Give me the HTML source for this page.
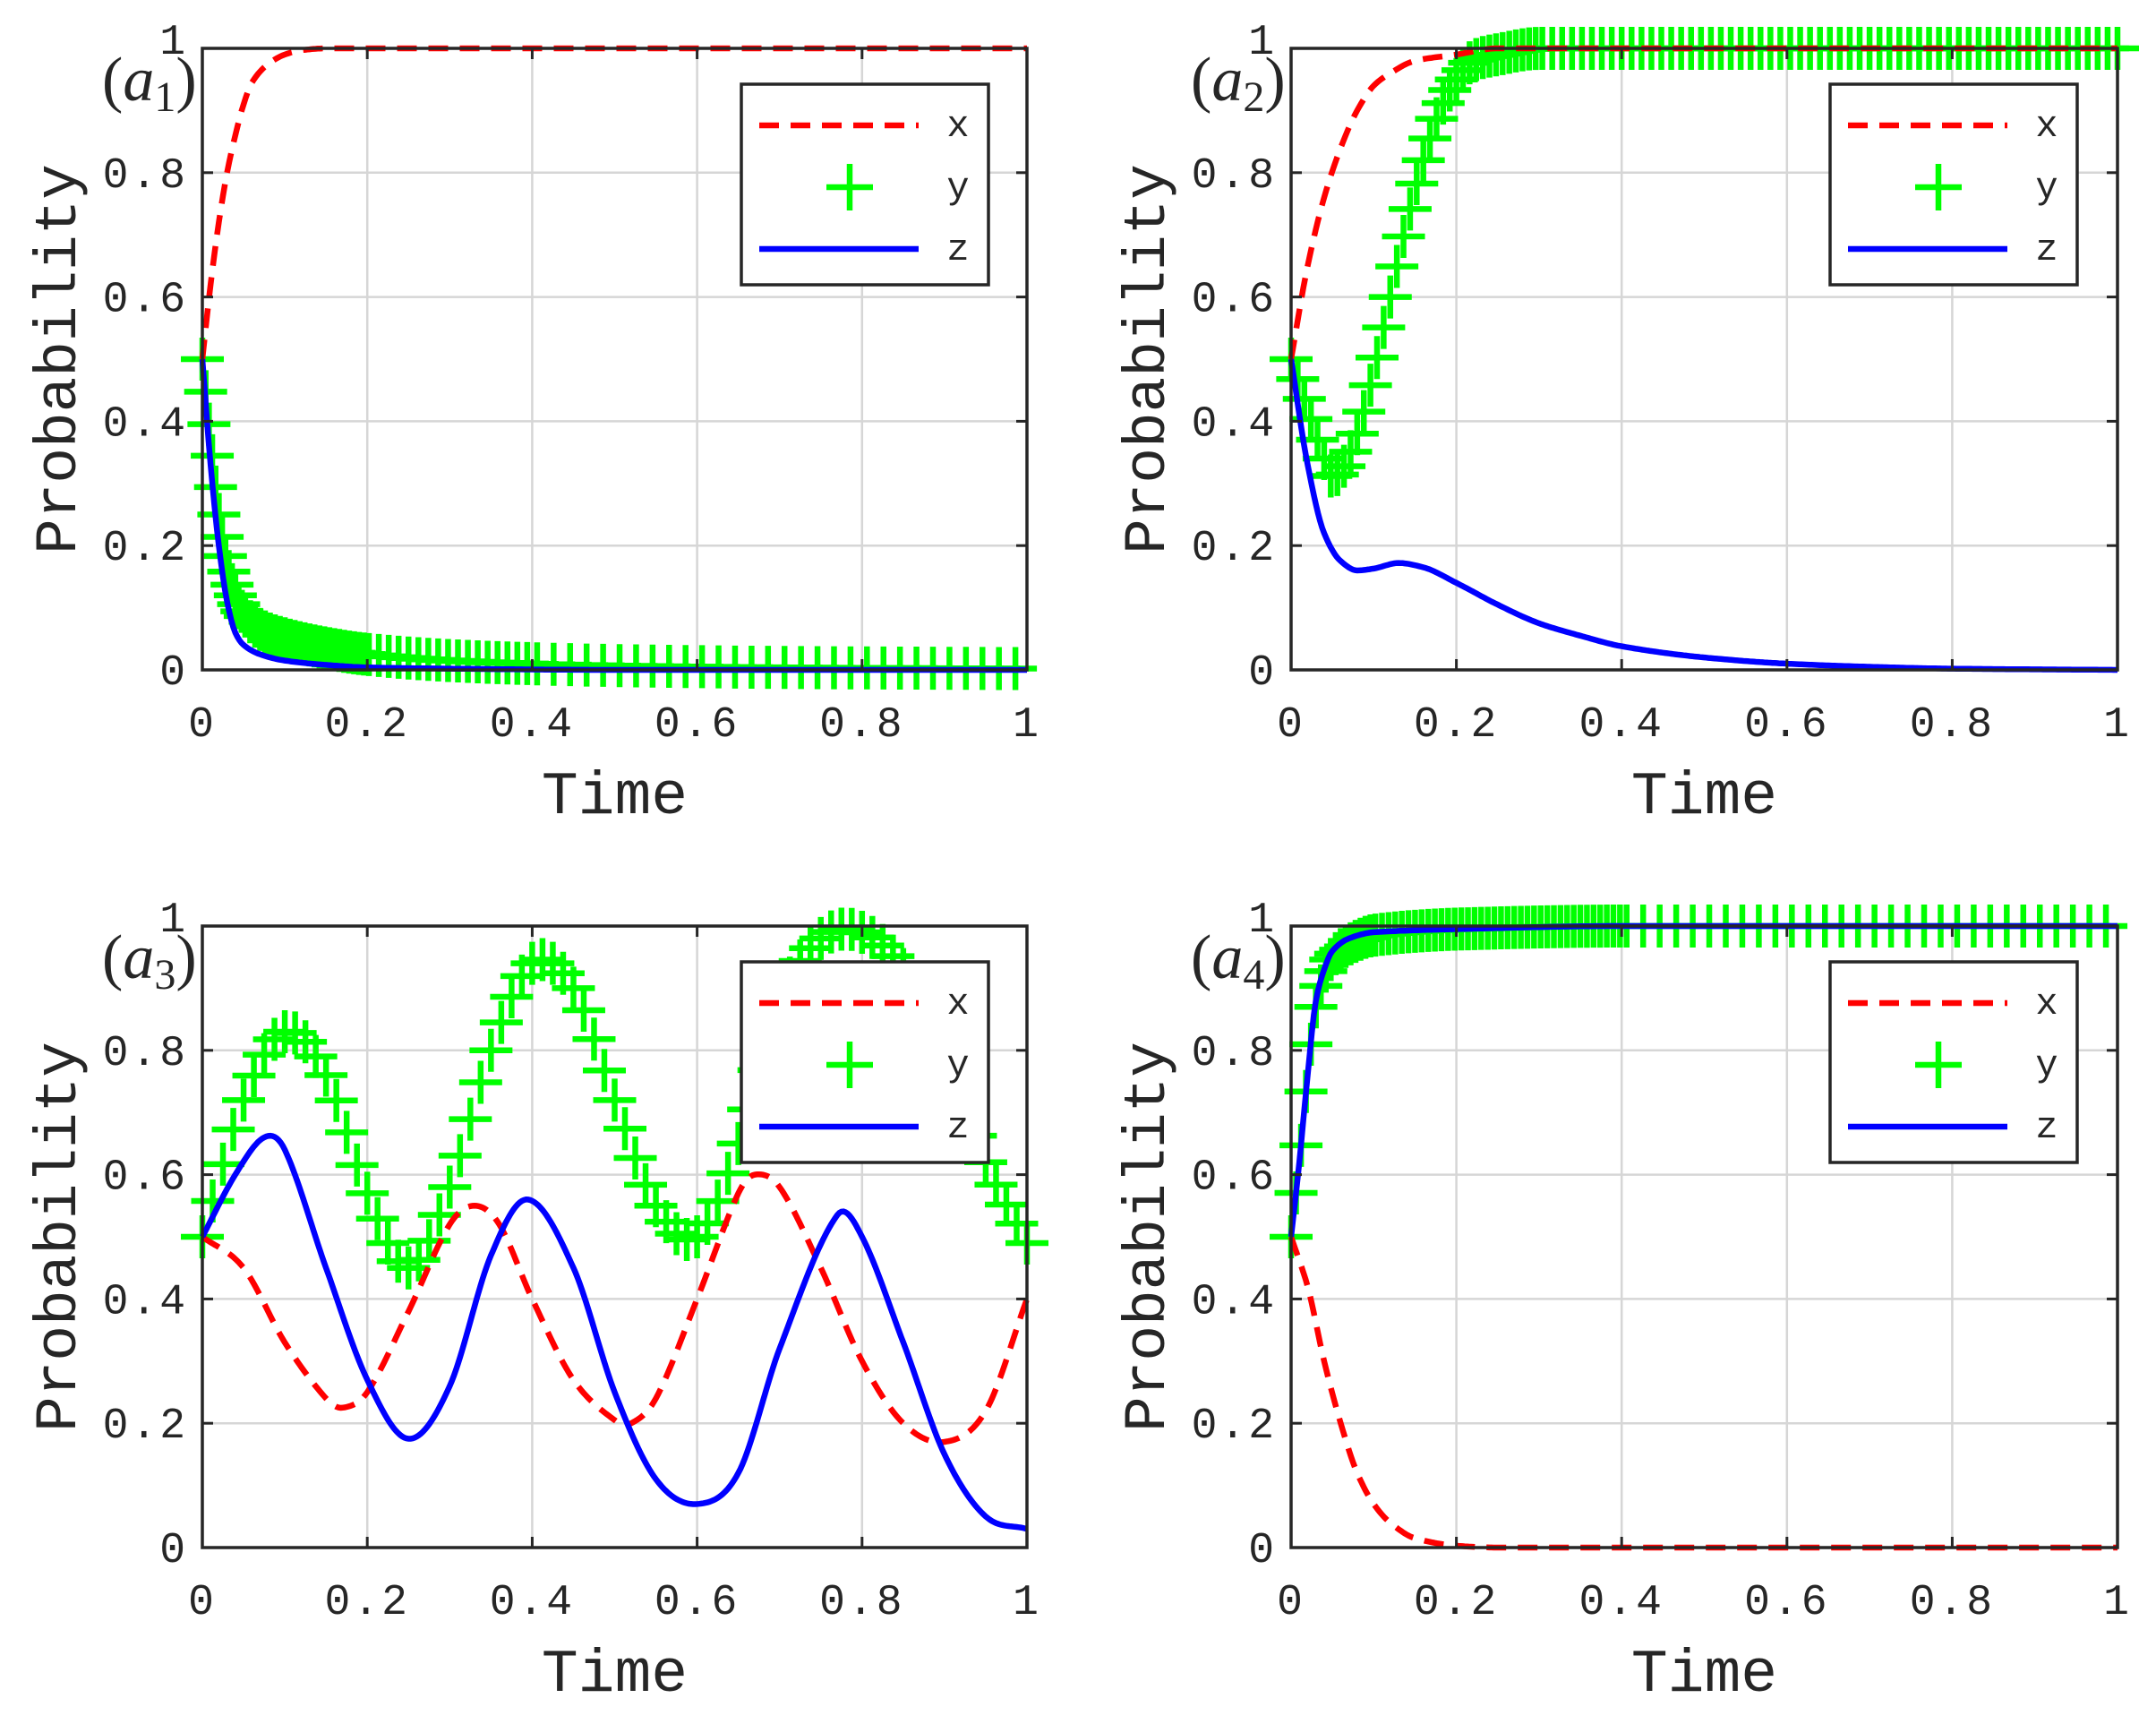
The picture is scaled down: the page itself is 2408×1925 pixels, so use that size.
<!DOCTYPE html>
<html><head><meta charset="utf-8"><style>
html,body{margin:0;padding:0;background:#fff;}
svg text{font-family:"Liberation Mono",monospace;fill:#262626;}
</style></head><body>
<svg id="fig" width="2408" height="1920" viewBox="0 0 2408 1920" xmlns="http://www.w3.org/2000/svg"></svg>
<script>
// ---- Panel a1 data ----
const a1_xt=[0,0.01,0.02,0.03,0.04,0.05,0.06,0.08,0.1,0.12,0.15,0.2,0.5,1];
const a1_x=[0.5,0.62,0.72,0.8,0.86,0.91,0.945,0.975,0.99,0.997,1,1,1,1];
const a1_yt=[0,0.01,0.02,0.03,0.04,0.05,0.07,0.1,0.15,0.2,0.3,0.4,0.5,0.7,1];
const a1_y=[0.5,0.37,0.25,0.17,0.12,0.09,0.065,0.05,0.035,0.025,0.015,0.01,0.007,0.004,0.002];
const a1_zt=[0,0.01,0.02,0.03,0.04,0.05,0.07,0.1,0.15,0.2,0.3,0.5,1];
const a1_z=[0.5,0.33,0.2,0.11,0.06,0.04,0.025,0.015,0.008,0.004,0.002,0,0];
// ---- Panel a2 data ----
const a2_xt=[0,0.02,0.04,0.06,0.08,0.1,0.12,0.15,0.2,0.25,1];
const a2_x=[0.5,0.65,0.76,0.84,0.9,0.94,0.96,0.98,0.99,1,1];
const a2_yt=[0,0.02,0.04,0.05,0.06,0.08,0.1,0.12,0.14,0.16,0.18,0.2,0.22,0.25,0.3,1];
const a2_y=[0.5,0.42,0.34,0.31,0.32,0.38,0.48,0.6,0.72,0.82,0.9,0.95,0.98,0.99,1,1];
const a2_zt=[0,0.02,0.04,0.06,0.08,0.1,0.13,0.16,0.2,0.25,0.3,0.35,0.4,0.5,0.6,0.7,0.8,1];
const a2_z=[0.5,0.33,0.22,0.175,0.16,0.163,0.172,0.165,0.14,0.105,0.075,0.055,0.038,0.02,0.01,0.005,0.002,0];
// ---- Panel a3 data ----
const a3_xt=[0,0.05,0.1,0.15,0.17,0.2,0.25,0.3,0.33,0.36,0.4,0.45,0.5,0.52,0.55,0.6,0.65,0.67,0.7,0.75,0.8,0.85,0.9,0.95,1];
const a3_x=[0.5,0.45,0.33,0.24,0.225,0.25,0.38,0.52,0.55,0.52,0.4,0.27,0.205,0.2,0.24,0.4,0.57,0.6,0.58,0.45,0.3,0.2,0.17,0.22,0.4];
const a3_yt=[0,0.05,0.1,0.15,0.2,0.25,0.3,0.35,0.4,0.45,0.5,0.55,0.6,0.65,0.7,0.75,0.8,0.85,0.9,0.95,1];
const a3_y=[0.5,0.72,0.83,0.76,0.57,0.45,0.58,0.8,0.94,0.9,0.72,0.55,0.5,0.65,0.88,0.98,0.99,0.93,0.8,0.62,0.49];
const a3_zt=[0,0.04,0.075,0.1,0.15,0.2,0.25,0.3,0.35,0.395,0.45,0.5,0.55,0.6,0.65,0.7,0.77,0.8,0.85,0.9,0.95,1];
const a3_z=[0.5,0.6,0.66,0.64,0.45,0.27,0.175,0.26,0.47,0.56,0.45,0.25,0.11,0.07,0.12,0.32,0.535,0.5,0.33,0.15,0.05,0.03];
// ---- Panel a4 data ----
const a4_xt=[0,0.02,0.04,0.06,0.08,0.1,0.12,0.15,0.2,0.25,1];
const a4_x=[0.5,0.42,0.3,0.2,0.12,0.07,0.04,0.015,0.003,0,0];
const a4_yt=[0,0.01,0.02,0.03,0.04,0.05,0.07,0.1,0.2,0.4,1];
const a4_y=[0.5,0.62,0.76,0.87,0.92,0.95,0.97,0.985,0.995,1,1];
const a4_zt=[0,0.01,0.02,0.03,0.04,0.05,0.07,0.1,0.2,0.4,1];
const a4_z=[0.5,0.62,0.76,0.88,0.93,0.96,0.98,0.99,0.995,1,1];
// ---- tick labels ----
const xTicks=[0,0.2,0.4,0.6,0.8,1];
const xTickLabels=["0","0.2","0.4","0.6","0.8","1"];
const yTicks=[0,0.2,0.4,0.6,0.8,1];
const yTickLabels=["0","0.2","0.4","0.6","0.8","1"];

const NS="http://www.w3.org/2000/svg";
const svg=document.getElementById('fig');
function mk(tag,attrs,parent){const e=document.createElementNS(NS,tag);for(const k in attrs)e.setAttribute(k,attrs[k]);(parent||svg).appendChild(e);return e;}

function interp(ts,vs,t,smooth){
  let i=0;while(i<ts.length-2&&t>ts[i+1])i++;
  const t0=ts[i],t1=ts[i+1],h=t1-t0,s=(t-t0)/h;
  const d=k=>{ if(k<=0) return (vs[1]-vs[0])/(ts[1]-ts[0]); if(k>=ts.length-1) return (vs[k]-vs[k-1])/(ts[k]-ts[k-1]);
    if(smooth) return (vs[k+1]-vs[k-1])/(ts[k+1]-ts[k-1]);
    const a=(vs[k]-vs[k-1])/(ts[k]-ts[k-1]),b=(vs[k+1]-vs[k])/(ts[k+1]-ts[k]); if(a*b<=0) return 0; return 2/(1/a+1/b);};
  const m0=d(i)*h,m1=d(i+1)*h,p0=vs[i],p1=vs[i+1];
  const s2=s*s,s3=s2*s;
  return (2*s3-3*s2+1)*p0+(s3-2*s2+s)*m0+(-2*s3+3*s2)*p1+(s3-s2)*m1;
}

const panels=[
 {id:'a1',L:226,R:1147,T:54,B:748,sub:'1',x:[a1_xt,a1_x],y:[a1_yt,a1_y],z:[a1_zt,a1_z],mk:'a1',smooth:false},
 {id:'a2',L:1442,R:2365,T:54,B:748,sub:'2',x:[a2_xt,a2_x],y:[a2_yt,a2_y],z:[a2_zt,a2_z],mk:'a2',smooth:false},
 {id:'a3',L:226,R:1147,T:1034,B:1728,sub:'3',x:[a3_xt,a3_x],y:[a3_yt,a3_y],z:[a3_zt,a3_z],mk:'a3',smooth:true},
 {id:'a4',L:1442,R:2365,T:1034,B:1728,sub:'4',x:[a4_xt,a4_x],y:[a4_yt,a4_y],z:[a4_zt,a4_z],mk:'a4',smooth:false}
];

function markerTimes(kind){
  const out=[];let t=0;
  if(kind==='a1'){while(t<=1.0001){out.push(t);t+= t<0.05?0.004:(t<0.2?0.006:(t<0.4?0.012:0.02));}}
  else if(kind==='a2'){while(t<=1.0001){out.push(t);t+= t<0.3?0.008:0.012;}}
  else if(kind==='a3'){while(t<=1.0001){out.push(t);t+=0.0125;}}
  else {while(t<=1.0001){out.push(t);t+= t<0.1?0.006:(t<0.4?0.008:0.02);}}
  return out;
}

panels.forEach(p=>{
  const g=mk('g',{});
  
  
  const sx=v=>p.L+(p.R-p.L)*v, sy=v=>p.B-(p.B-p.T)*v;
  xTicks.forEach(v=>{const l=mk('line',{x1:sx(v),x2:sx(v),y1:p.T,y2:p.B,stroke:'#d6d6d6','stroke-width':2.5},g);
    });
  yTicks.forEach(v=>{const l=mk('line',{x1:p.L,x2:p.R,y1:sy(v),y2:sy(v),stroke:'#d6d6d6','stroke-width':2.5},g);
    });
  const N=400;
  const path=(ser)=>{let d='';for(let i=0;i<=N;i++){const t=i/N;d+=(i?'L':'M')+sx(t).toFixed(1)+','+sy(interp(ser[0],ser[1],t,p.smooth)).toFixed(1);}return d;};
  const mg=mk('g',{stroke:'#00ff00','stroke-width':6.5,fill:'none'},g);
  
  markerTimes(p.mk).forEach(t=>{const cx=sx(t),cy=sy(interp(p.y[0],p.y[1],t,p.smooth));
    const m=mk('path',{d:`M${cx-24},${cy}H${cx+24}M${cx},${cy-24}V${cy+24}`},mg);
    });
  const xl=mk('path',{d:path(p.x),stroke:'#ff0000','stroke-width':6.5,fill:'none','stroke-dasharray':'22 13'},g);
  
  const zl=mk('path',{d:path(p.z),stroke:'#0000ff','stroke-width':6.5,fill:'none'},g);
  
  const fr=mk('rect',{x:p.L,y:p.T,width:p.R-p.L,height:p.B-p.T,fill:'none',stroke:'#262626','stroke-width':3.5},g);
  
  xTicks.forEach((v,i)=>{
    mk('line',{x1:sx(v),x2:sx(v),y1:p.B,y2:p.B-12,stroke:'#262626','stroke-width':3},g);
    mk('line',{x1:sx(v),x2:sx(v),y1:p.T,y2:p.T+12,stroke:'#262626','stroke-width':3},g);
    const tx=mk('text',{x:sx(v),y:p.B+74,'font-size':48,'text-anchor':'middle','letter-spacing':3},g);tx.textContent=xTickLabels[i];
    
  });
  yTicks.forEach((v,i)=>{
    mk('line',{x1:p.L,x2:p.L+12,y1:sy(v),y2:sy(v),stroke:'#262626','stroke-width':3},g);
    mk('line',{x1:p.R,x2:p.R-12,y1:sy(v),y2:sy(v),stroke:'#262626','stroke-width':3},g);
    const tx=mk('text',{x:p.L-16,y:sy(v)+16-(v===1?10:0),'font-size':48,'text-anchor':'end','letter-spacing':3},g);tx.textContent=yTickLabels[i];
    
  });
  const xt=mk('text',{x:(p.L+p.R)/2,y:p.B+160,'font-size':68,'text-anchor':'middle'},g);xt.textContent='Time';
  
  const cy=(p.T+p.B)/2;
  const yt=mk('text',{x:0,y:0,'font-size':66,'text-anchor':'middle',transform:`translate(${p.L-142},${cy}) rotate(-90)`},g);yt.textContent='Probability';
  
  const pl=mk('text',{x:p.L-112,y:p.T+58,'font-size':70,style:'font-family:"Liberation Serif",serif'},g);
  
  pl.innerHTML='(<tspan font-style="italic">a</tspan><tspan font-size="48" dy="12">'+p.sub+'</tspan><tspan dy="-12">)</tspan>';
  const lx=p.L+602,ly=p.T+40,lw=276,lh=224;
  const lg=mk('g',{},g);
  mk('rect',{x:lx,y:ly,width:lw,height:lh,fill:'#fff',stroke:'#262626','stroke-width':3.5},lg);
  const rows=[['x',46],['y',115],['z',184]];
  mk('path',{d:`M${lx+20},${ly+46}H${lx+198}`,stroke:'#ff0000','stroke-width':6.5,'stroke-dasharray':'22 13'},lg);
  mk('path',{d:`M${lx+95},${ly+115}H${lx+147}M${lx+121},${ly+89}V${ly+141}`,stroke:'#00ff00','stroke-width':6.5},lg);
  mk('path',{d:`M${lx+20},${ly+184}H${lx+198}`,stroke:'#0000ff','stroke-width':6.5},lg);
  rows.forEach(r=>{const t=mk('text',{x:lx+242,y:ly+r[1]+12,'font-size':42,'text-anchor':'middle'},lg);t.textContent=r[0];
    });
});
</script>
</body></html>
